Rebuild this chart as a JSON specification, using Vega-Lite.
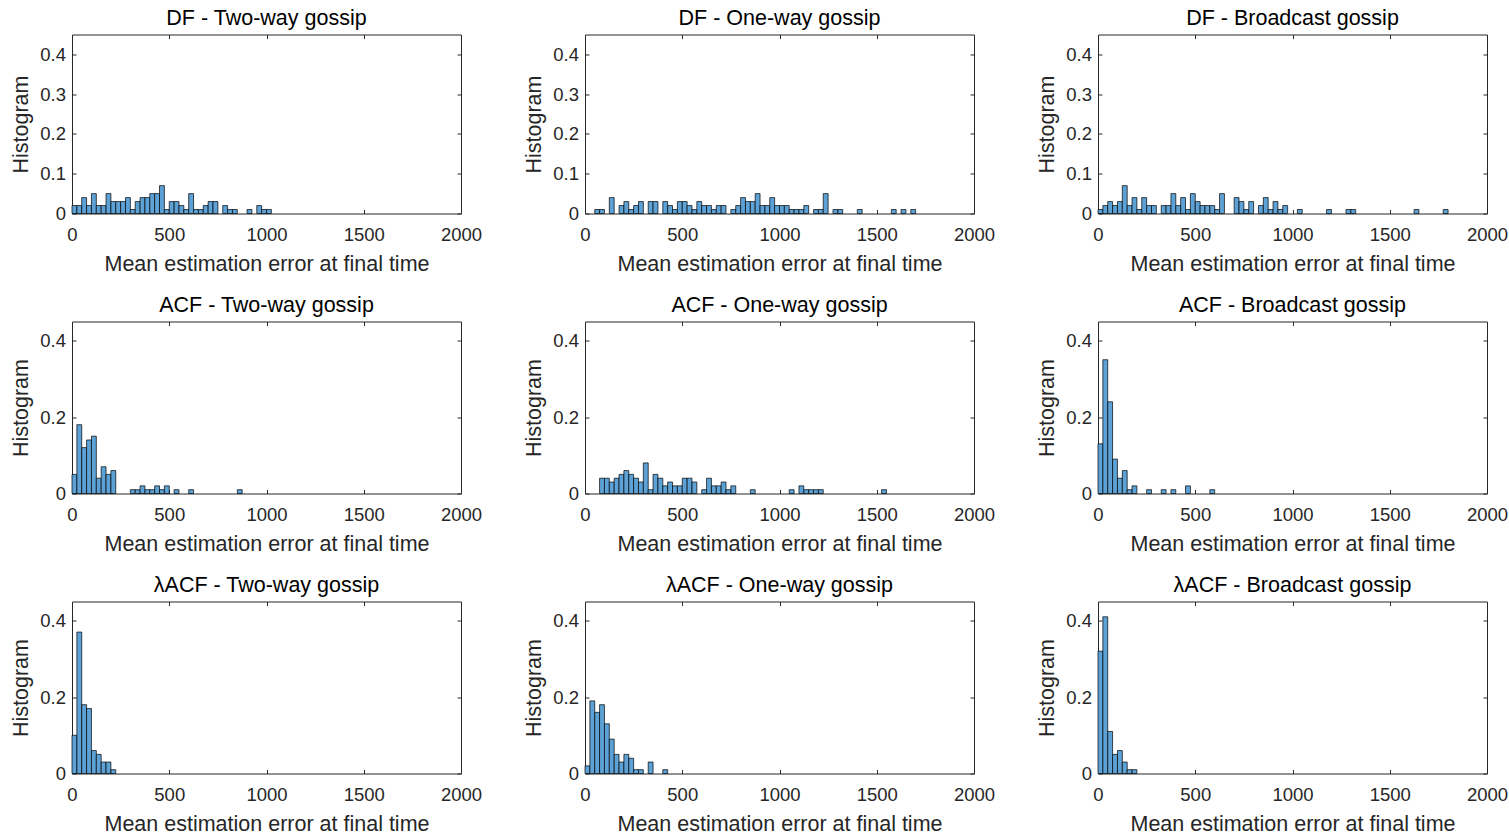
{
  "$schema": "https://vega.github.io/schema/vega-lite/v6.json",
  "padding": {"left": 10, "top": 7.5, "right": 0, "bottom": 0},
  "background": "white",
  "datasets": {
    "hist": [
      {"g":"DF2","lo":0,"hi":25,"p":0.02},{"g":"DF2","lo":25,"hi":50,"p":0.02},{"g":"DF2","lo":50,"hi":75,"p":0.04},{"g":"DF2","lo":75,"hi":100,"p":0.02},
      {"g":"DF2","lo":100,"hi":125,"p":0.05},{"g":"DF2","lo":125,"hi":150,"p":0.02},{"g":"DF2","lo":150,"hi":175,"p":0.02},{"g":"DF2","lo":175,"hi":200,"p":0.05},
      {"g":"DF2","lo":200,"hi":225,"p":0.03},{"g":"DF2","lo":225,"hi":250,"p":0.03},{"g":"DF2","lo":250,"hi":275,"p":0.03},{"g":"DF2","lo":275,"hi":300,"p":0.04},
      {"g":"DF2","lo":300,"hi":325,"p":0.01},{"g":"DF2","lo":325,"hi":350,"p":0.03},{"g":"DF2","lo":350,"hi":375,"p":0.04},{"g":"DF2","lo":375,"hi":400,"p":0.04},
      {"g":"DF2","lo":400,"hi":425,"p":0.05},{"g":"DF2","lo":425,"hi":450,"p":0.05},{"g":"DF2","lo":450,"hi":475,"p":0.07},{"g":"DF2","lo":475,"hi":500,"p":0.01},
      {"g":"DF2","lo":500,"hi":525,"p":0.03},{"g":"DF2","lo":525,"hi":550,"p":0.03},{"g":"DF2","lo":550,"hi":575,"p":0.02},{"g":"DF2","lo":575,"hi":600,"p":0.01},
      {"g":"DF2","lo":600,"hi":625,"p":0.05},{"g":"DF2","lo":625,"hi":650,"p":0.01},{"g":"DF2","lo":650,"hi":675,"p":0.01},{"g":"DF2","lo":675,"hi":700,"p":0.02},
      {"g":"DF2","lo":700,"hi":725,"p":0.03},{"g":"DF2","lo":725,"hi":750,"p":0.03},{"g":"DF2","lo":775,"hi":800,"p":0.02},{"g":"DF2","lo":800,"hi":825,"p":0.01},
      {"g":"DF2","lo":825,"hi":850,"p":0.01},{"g":"DF2","lo":900,"hi":925,"p":0.01},{"g":"DF2","lo":950,"hi":975,"p":0.02},{"g":"DF2","lo":975,"hi":1000,"p":0.01},
      {"g":"DF2","lo":1000,"hi":1025,"p":0.01},

      {"g":"DF1","lo":50,"hi":75,"p":0.01},{"g":"DF1","lo":75,"hi":100,"p":0.01},{"g":"DF1","lo":125,"hi":150,"p":0.04},{"g":"DF1","lo":175,"hi":200,"p":0.02},
      {"g":"DF1","lo":200,"hi":225,"p":0.03},{"g":"DF1","lo":225,"hi":250,"p":0.01},{"g":"DF1","lo":250,"hi":275,"p":0.02},{"g":"DF1","lo":275,"hi":300,"p":0.03},
      {"g":"DF1","lo":325,"hi":350,"p":0.03},{"g":"DF1","lo":350,"hi":375,"p":0.03},{"g":"DF1","lo":400,"hi":425,"p":0.03},{"g":"DF1","lo":425,"hi":450,"p":0.02},
      {"g":"DF1","lo":450,"hi":475,"p":0.01},{"g":"DF1","lo":475,"hi":500,"p":0.03},{"g":"DF1","lo":500,"hi":525,"p":0.03},{"g":"DF1","lo":525,"hi":550,"p":0.02},
      {"g":"DF1","lo":550,"hi":575,"p":0.01},{"g":"DF1","lo":575,"hi":600,"p":0.03},{"g":"DF1","lo":600,"hi":625,"p":0.02},{"g":"DF1","lo":625,"hi":650,"p":0.02},
      {"g":"DF1","lo":650,"hi":675,"p":0.01},{"g":"DF1","lo":675,"hi":700,"p":0.02},{"g":"DF1","lo":700,"hi":725,"p":0.02},{"g":"DF1","lo":750,"hi":775,"p":0.01},
      {"g":"DF1","lo":775,"hi":800,"p":0.02},{"g":"DF1","lo":800,"hi":825,"p":0.04},{"g":"DF1","lo":825,"hi":850,"p":0.03},{"g":"DF1","lo":850,"hi":875,"p":0.03},
      {"g":"DF1","lo":875,"hi":900,"p":0.05},{"g":"DF1","lo":900,"hi":925,"p":0.02},{"g":"DF1","lo":925,"hi":950,"p":0.02},{"g":"DF1","lo":950,"hi":975,"p":0.04},
      {"g":"DF1","lo":975,"hi":1000,"p":0.02},{"g":"DF1","lo":1000,"hi":1025,"p":0.02},{"g":"DF1","lo":1025,"hi":1050,"p":0.02},{"g":"DF1","lo":1050,"hi":1075,"p":0.01},
      {"g":"DF1","lo":1075,"hi":1100,"p":0.01},{"g":"DF1","lo":1100,"hi":1125,"p":0.01},{"g":"DF1","lo":1125,"hi":1150,"p":0.02},{"g":"DF1","lo":1175,"hi":1200,"p":0.01},
      {"g":"DF1","lo":1200,"hi":1225,"p":0.01},{"g":"DF1","lo":1225,"hi":1250,"p":0.05},{"g":"DF1","lo":1275,"hi":1300,"p":0.01},{"g":"DF1","lo":1300,"hi":1325,"p":0.01},
      {"g":"DF1","lo":1400,"hi":1425,"p":0.01},{"g":"DF1","lo":1575,"hi":1600,"p":0.01},{"g":"DF1","lo":1625,"hi":1650,"p":0.01},{"g":"DF1","lo":1675,"hi":1700,"p":0.01},

      {"g":"DFB","lo":0,"hi":25,"p":0.01},{"g":"DFB","lo":25,"hi":50,"p":0.02},{"g":"DFB","lo":50,"hi":75,"p":0.03},{"g":"DFB","lo":75,"hi":100,"p":0.02},
      {"g":"DFB","lo":100,"hi":125,"p":0.03},{"g":"DFB","lo":125,"hi":150,"p":0.07},{"g":"DFB","lo":150,"hi":175,"p":0.02},{"g":"DFB","lo":175,"hi":200,"p":0.04},
      {"g":"DFB","lo":200,"hi":225,"p":0.01},{"g":"DFB","lo":225,"hi":250,"p":0.04},{"g":"DFB","lo":250,"hi":275,"p":0.02},{"g":"DFB","lo":275,"hi":300,"p":0.02},
      {"g":"DFB","lo":325,"hi":350,"p":0.02},{"g":"DFB","lo":350,"hi":375,"p":0.02},{"g":"DFB","lo":375,"hi":400,"p":0.05},{"g":"DFB","lo":400,"hi":425,"p":0.02},
      {"g":"DFB","lo":425,"hi":450,"p":0.04},{"g":"DFB","lo":450,"hi":475,"p":0.01},{"g":"DFB","lo":475,"hi":500,"p":0.05},{"g":"DFB","lo":500,"hi":525,"p":0.03},
      {"g":"DFB","lo":525,"hi":550,"p":0.02},{"g":"DFB","lo":550,"hi":575,"p":0.02},{"g":"DFB","lo":575,"hi":600,"p":0.02},{"g":"DFB","lo":600,"hi":625,"p":0.01},
      {"g":"DFB","lo":625,"hi":650,"p":0.05},{"g":"DFB","lo":700,"hi":725,"p":0.04},{"g":"DFB","lo":725,"hi":750,"p":0.03},{"g":"DFB","lo":750,"hi":775,"p":0.01},
      {"g":"DFB","lo":775,"hi":800,"p":0.03},{"g":"DFB","lo":825,"hi":850,"p":0.02},{"g":"DFB","lo":850,"hi":875,"p":0.04},{"g":"DFB","lo":875,"hi":900,"p":0.01},
      {"g":"DFB","lo":900,"hi":925,"p":0.03},{"g":"DFB","lo":925,"hi":950,"p":0.01},{"g":"DFB","lo":950,"hi":975,"p":0.02},{"g":"DFB","lo":1025,"hi":1050,"p":0.01},
      {"g":"DFB","lo":1175,"hi":1200,"p":0.01},{"g":"DFB","lo":1275,"hi":1300,"p":0.01},{"g":"DFB","lo":1300,"hi":1325,"p":0.01},{"g":"DFB","lo":1625,"hi":1650,"p":0.01},
      {"g":"DFB","lo":1775,"hi":1800,"p":0.01},

      {"g":"ACF2","lo":0,"hi":25,"p":0.05},{"g":"ACF2","lo":25,"hi":50,"p":0.18},{"g":"ACF2","lo":50,"hi":75,"p":0.12},{"g":"ACF2","lo":75,"hi":100,"p":0.14},
      {"g":"ACF2","lo":100,"hi":125,"p":0.15},{"g":"ACF2","lo":125,"hi":150,"p":0.04},{"g":"ACF2","lo":150,"hi":175,"p":0.07},{"g":"ACF2","lo":175,"hi":200,"p":0.05},
      {"g":"ACF2","lo":200,"hi":225,"p":0.06},{"g":"ACF2","lo":300,"hi":325,"p":0.01},{"g":"ACF2","lo":325,"hi":350,"p":0.01},{"g":"ACF2","lo":350,"hi":375,"p":0.02},
      {"g":"ACF2","lo":375,"hi":400,"p":0.01},{"g":"ACF2","lo":400,"hi":425,"p":0.01},{"g":"ACF2","lo":425,"hi":450,"p":0.02},{"g":"ACF2","lo":450,"hi":475,"p":0.01},
      {"g":"ACF2","lo":475,"hi":500,"p":0.02},{"g":"ACF2","lo":525,"hi":550,"p":0.01},{"g":"ACF2","lo":600,"hi":625,"p":0.01},{"g":"ACF2","lo":850,"hi":875,"p":0.01},

      {"g":"ACF1","lo":75,"hi":100,"p":0.04},{"g":"ACF1","lo":100,"hi":125,"p":0.04},{"g":"ACF1","lo":125,"hi":150,"p":0.03},{"g":"ACF1","lo":150,"hi":175,"p":0.04},
      {"g":"ACF1","lo":175,"hi":200,"p":0.05},{"g":"ACF1","lo":200,"hi":225,"p":0.06},{"g":"ACF1","lo":225,"hi":250,"p":0.05},{"g":"ACF1","lo":250,"hi":275,"p":0.04},
      {"g":"ACF1","lo":275,"hi":300,"p":0.03},{"g":"ACF1","lo":300,"hi":325,"p":0.08},{"g":"ACF1","lo":325,"hi":350,"p":0.01},{"g":"ACF1","lo":350,"hi":375,"p":0.05},
      {"g":"ACF1","lo":375,"hi":400,"p":0.04},{"g":"ACF1","lo":400,"hi":425,"p":0.02},{"g":"ACF1","lo":425,"hi":450,"p":0.03},{"g":"ACF1","lo":450,"hi":475,"p":0.02},
      {"g":"ACF1","lo":475,"hi":500,"p":0.02},{"g":"ACF1","lo":500,"hi":525,"p":0.04},{"g":"ACF1","lo":525,"hi":550,"p":0.04},{"g":"ACF1","lo":550,"hi":575,"p":0.03},
      {"g":"ACF1","lo":600,"hi":625,"p":0.01},{"g":"ACF1","lo":625,"hi":650,"p":0.04},{"g":"ACF1","lo":650,"hi":675,"p":0.02},{"g":"ACF1","lo":675,"hi":700,"p":0.02},
      {"g":"ACF1","lo":700,"hi":725,"p":0.03},{"g":"ACF1","lo":725,"hi":750,"p":0.01},{"g":"ACF1","lo":750,"hi":775,"p":0.02},{"g":"ACF1","lo":850,"hi":875,"p":0.01},
      {"g":"ACF1","lo":1050,"hi":1075,"p":0.01},{"g":"ACF1","lo":1100,"hi":1125,"p":0.02},{"g":"ACF1","lo":1125,"hi":1150,"p":0.01},{"g":"ACF1","lo":1150,"hi":1175,"p":0.01},
      {"g":"ACF1","lo":1175,"hi":1200,"p":0.01},{"g":"ACF1","lo":1200,"hi":1225,"p":0.01},{"g":"ACF1","lo":1525,"hi":1550,"p":0.01},

      {"g":"ACFB","lo":0,"hi":25,"p":0.13},{"g":"ACFB","lo":25,"hi":50,"p":0.35},{"g":"ACFB","lo":50,"hi":75,"p":0.24},{"g":"ACFB","lo":75,"hi":100,"p":0.09},
      {"g":"ACFB","lo":100,"hi":125,"p":0.04},{"g":"ACFB","lo":125,"hi":150,"p":0.06},{"g":"ACFB","lo":150,"hi":175,"p":0.01},{"g":"ACFB","lo":175,"hi":200,"p":0.02},
      {"g":"ACFB","lo":250,"hi":275,"p":0.01},{"g":"ACFB","lo":325,"hi":350,"p":0.01},{"g":"ACFB","lo":375,"hi":400,"p":0.01},{"g":"ACFB","lo":450,"hi":475,"p":0.02},
      {"g":"ACFB","lo":575,"hi":600,"p":0.01},

      {"g":"LACF2","lo":0,"hi":25,"p":0.10},{"g":"LACF2","lo":25,"hi":50,"p":0.37},{"g":"LACF2","lo":50,"hi":75,"p":0.18},{"g":"LACF2","lo":75,"hi":100,"p":0.17},
      {"g":"LACF2","lo":100,"hi":125,"p":0.06},{"g":"LACF2","lo":125,"hi":150,"p":0.05},{"g":"LACF2","lo":150,"hi":175,"p":0.03},{"g":"LACF2","lo":175,"hi":200,"p":0.03},
      {"g":"LACF2","lo":200,"hi":225,"p":0.01},

      {"g":"LACF1","lo":0,"hi":25,"p":0.02},{"g":"LACF1","lo":25,"hi":50,"p":0.19},{"g":"LACF1","lo":50,"hi":75,"p":0.16},{"g":"LACF1","lo":75,"hi":100,"p":0.18},
      {"g":"LACF1","lo":100,"hi":125,"p":0.13},{"g":"LACF1","lo":125,"hi":150,"p":0.09},{"g":"LACF1","lo":150,"hi":175,"p":0.05},{"g":"LACF1","lo":175,"hi":200,"p":0.03},
      {"g":"LACF1","lo":200,"hi":225,"p":0.05},{"g":"LACF1","lo":225,"hi":250,"p":0.04},{"g":"LACF1","lo":250,"hi":275,"p":0.01},{"g":"LACF1","lo":275,"hi":300,"p":0.01},
      {"g":"LACF1","lo":325,"hi":350,"p":0.03},{"g":"LACF1","lo":400,"hi":425,"p":0.01},

      {"g":"LACFB","lo":0,"hi":25,"p":0.32},{"g":"LACFB","lo":25,"hi":50,"p":0.41},{"g":"LACFB","lo":50,"hi":75,"p":0.11},{"g":"LACFB","lo":75,"hi":100,"p":0.05},
      {"g":"LACFB","lo":100,"hi":125,"p":0.06},{"g":"LACFB","lo":125,"hi":150,"p":0.03},{"g":"LACFB","lo":150,"hi":175,"p":0.01},{"g":"LACFB","lo":175,"hi":200,"p":0.01}
    ]
  },
  "data": {"name": "hist"},
  "bounds": "flush",
  "columns": 3,
  "spacing": {"row": 108, "column": 124},
  "concat": [
    {"title": "DF - Two-way gossip", "width": 389, "height": 179,
     "transform": [{"filter": "datum.g === 'DF2'"}],
     "layer": [
       {"mark": "rect", "encoding": {
         "x": {"field": "lo", "type": "quantitative", "scale": {"domain": [0, 2000]}, "axis": {"values": [0, 500, 1000, 1500, 2000], "format": "d", "title": "Mean estimation error at final time"}},
         "x2": {"field": "hi"},
         "y": {"field": "p", "type": "quantitative", "scale": {"domain": [0, 0.44]}, "axis": {"values": [0, 0.1, 0.2, 0.3, 0.4], "format": "~g", "title": "Histogram"}},
         "y2": {"datum": 0}}},
       {"mark": {"type": "rect", "opacity": 0}, "encoding": {
         "x": {"field": "lo", "type": "quantitative", "axis": {"orient": "top", "values": [0, 500, 1000, 1500, 2000], "labels": false, "title": null}},
         "x2": {"field": "hi"},
         "y": {"field": "p", "type": "quantitative", "axis": {"orient": "right", "values": [0, 0.1, 0.2, 0.3, 0.4], "labels": false, "title": null}},
         "y2": {"datum": 0}}}
     ],
     "resolve": {"axis": {"x": "independent", "y": "independent"}}},
    {"title": "DF - One-way gossip", "width": 389, "height": 179,
     "transform": [{"filter": "datum.g === 'DF1'"}],
     "layer": [
       {"mark": "rect", "encoding": {
         "x": {"field": "lo", "type": "quantitative", "scale": {"domain": [0, 2000]}, "axis": {"values": [0, 500, 1000, 1500, 2000], "format": "d", "title": "Mean estimation error at final time"}},
         "x2": {"field": "hi"},
         "y": {"field": "p", "type": "quantitative", "scale": {"domain": [0, 0.44]}, "axis": {"values": [0, 0.1, 0.2, 0.3, 0.4], "format": "~g", "title": "Histogram"}},
         "y2": {"datum": 0}}},
       {"mark": {"type": "rect", "opacity": 0}, "encoding": {
         "x": {"field": "lo", "type": "quantitative", "axis": {"orient": "top", "values": [0, 500, 1000, 1500, 2000], "labels": false, "title": null}},
         "x2": {"field": "hi"},
         "y": {"field": "p", "type": "quantitative", "axis": {"orient": "right", "values": [0, 0.1, 0.2, 0.3, 0.4], "labels": false, "title": null}},
         "y2": {"datum": 0}}}
     ],
     "resolve": {"axis": {"x": "independent", "y": "independent"}}},
    {"title": "DF - Broadcast gossip", "width": 389, "height": 179,
     "transform": [{"filter": "datum.g === 'DFB'"}],
     "layer": [
       {"mark": "rect", "encoding": {
         "x": {"field": "lo", "type": "quantitative", "scale": {"domain": [0, 2000]}, "axis": {"values": [0, 500, 1000, 1500, 2000], "format": "d", "title": "Mean estimation error at final time"}},
         "x2": {"field": "hi"},
         "y": {"field": "p", "type": "quantitative", "scale": {"domain": [0, 0.44]}, "axis": {"values": [0, 0.1, 0.2, 0.3, 0.4], "format": "~g", "title": "Histogram"}},
         "y2": {"datum": 0}}},
       {"mark": {"type": "rect", "opacity": 0}, "encoding": {
         "x": {"field": "lo", "type": "quantitative", "axis": {"orient": "top", "values": [0, 500, 1000, 1500, 2000], "labels": false, "title": null}},
         "x2": {"field": "hi"},
         "y": {"field": "p", "type": "quantitative", "axis": {"orient": "right", "values": [0, 0.1, 0.2, 0.3, 0.4], "labels": false, "title": null}},
         "y2": {"datum": 0}}}
     ],
     "resolve": {"axis": {"x": "independent", "y": "independent"}}},
    {"title": "ACF - Two-way gossip", "width": 389, "height": 172,
     "transform": [{"filter": "datum.g === 'ACF2'"}],
     "layer": [
       {"mark": "rect", "encoding": {
         "x": {"field": "lo", "type": "quantitative", "scale": {"domain": [0, 2000]}, "axis": {"values": [0, 500, 1000, 1500, 2000], "format": "d", "title": "Mean estimation error at final time"}},
         "x2": {"field": "hi"},
         "y": {"field": "p", "type": "quantitative", "scale": {"domain": [0, 0.44]}, "axis": {"values": [0, 0.2, 0.4], "format": "~g", "title": "Histogram"}},
         "y2": {"datum": 0}}},
       {"mark": {"type": "rect", "opacity": 0}, "encoding": {
         "x": {"field": "lo", "type": "quantitative", "axis": {"orient": "top", "values": [0, 500, 1000, 1500, 2000], "labels": false, "title": null}},
         "x2": {"field": "hi"},
         "y": {"field": "p", "type": "quantitative", "axis": {"orient": "right", "values": [0, 0.2, 0.4], "labels": false, "title": null}},
         "y2": {"datum": 0}}}
     ],
     "resolve": {"axis": {"x": "independent", "y": "independent"}}},
    {"title": "ACF - One-way gossip", "width": 389, "height": 172,
     "transform": [{"filter": "datum.g === 'ACF1'"}],
     "layer": [
       {"mark": "rect", "encoding": {
         "x": {"field": "lo", "type": "quantitative", "scale": {"domain": [0, 2000]}, "axis": {"values": [0, 500, 1000, 1500, 2000], "format": "d", "title": "Mean estimation error at final time"}},
         "x2": {"field": "hi"},
         "y": {"field": "p", "type": "quantitative", "scale": {"domain": [0, 0.44]}, "axis": {"values": [0, 0.2, 0.4], "format": "~g", "title": "Histogram"}},
         "y2": {"datum": 0}}},
       {"mark": {"type": "rect", "opacity": 0}, "encoding": {
         "x": {"field": "lo", "type": "quantitative", "axis": {"orient": "top", "values": [0, 500, 1000, 1500, 2000], "labels": false, "title": null}},
         "x2": {"field": "hi"},
         "y": {"field": "p", "type": "quantitative", "axis": {"orient": "right", "values": [0, 0.2, 0.4], "labels": false, "title": null}},
         "y2": {"datum": 0}}}
     ],
     "resolve": {"axis": {"x": "independent", "y": "independent"}}},
    {"title": "ACF - Broadcast gossip", "width": 389, "height": 172,
     "transform": [{"filter": "datum.g === 'ACFB'"}],
     "layer": [
       {"mark": "rect", "encoding": {
         "x": {"field": "lo", "type": "quantitative", "scale": {"domain": [0, 2000]}, "axis": {"values": [0, 500, 1000, 1500, 2000], "format": "d", "title": "Mean estimation error at final time"}},
         "x2": {"field": "hi"},
         "y": {"field": "p", "type": "quantitative", "scale": {"domain": [0, 0.44]}, "axis": {"values": [0, 0.2, 0.4], "format": "~g", "title": "Histogram"}},
         "y2": {"datum": 0}}},
       {"mark": {"type": "rect", "opacity": 0}, "encoding": {
         "x": {"field": "lo", "type": "quantitative", "axis": {"orient": "top", "values": [0, 500, 1000, 1500, 2000], "labels": false, "title": null}},
         "x2": {"field": "hi"},
         "y": {"field": "p", "type": "quantitative", "axis": {"orient": "right", "values": [0, 0.2, 0.4], "labels": false, "title": null}},
         "y2": {"datum": 0}}}
     ],
     "resolve": {"axis": {"x": "independent", "y": "independent"}}},
    {"title": "λACF - Two-way gossip", "width": 389, "height": 172,
     "transform": [{"filter": "datum.g === 'LACF2'"}],
     "layer": [
       {"mark": "rect", "encoding": {
         "x": {"field": "lo", "type": "quantitative", "scale": {"domain": [0, 2000]}, "axis": {"values": [0, 500, 1000, 1500, 2000], "format": "d", "title": "Mean estimation error at final time"}},
         "x2": {"field": "hi"},
         "y": {"field": "p", "type": "quantitative", "scale": {"domain": [0, 0.44]}, "axis": {"values": [0, 0.2, 0.4], "format": "~g", "title": "Histogram"}},
         "y2": {"datum": 0}}},
       {"mark": {"type": "rect", "opacity": 0}, "encoding": {
         "x": {"field": "lo", "type": "quantitative", "axis": {"orient": "top", "values": [0, 500, 1000, 1500, 2000], "labels": false, "title": null}},
         "x2": {"field": "hi"},
         "y": {"field": "p", "type": "quantitative", "axis": {"orient": "right", "values": [0, 0.2, 0.4], "labels": false, "title": null}},
         "y2": {"datum": 0}}}
     ],
     "resolve": {"axis": {"x": "independent", "y": "independent"}}},
    {"title": "λACF - One-way gossip", "width": 389, "height": 172,
     "transform": [{"filter": "datum.g === 'LACF1'"}],
     "layer": [
       {"mark": "rect", "encoding": {
         "x": {"field": "lo", "type": "quantitative", "scale": {"domain": [0, 2000]}, "axis": {"values": [0, 500, 1000, 1500, 2000], "format": "d", "title": "Mean estimation error at final time"}},
         "x2": {"field": "hi"},
         "y": {"field": "p", "type": "quantitative", "scale": {"domain": [0, 0.44]}, "axis": {"values": [0, 0.2, 0.4], "format": "~g", "title": "Histogram"}},
         "y2": {"datum": 0}}},
       {"mark": {"type": "rect", "opacity": 0}, "encoding": {
         "x": {"field": "lo", "type": "quantitative", "axis": {"orient": "top", "values": [0, 500, 1000, 1500, 2000], "labels": false, "title": null}},
         "x2": {"field": "hi"},
         "y": {"field": "p", "type": "quantitative", "axis": {"orient": "right", "values": [0, 0.2, 0.4], "labels": false, "title": null}},
         "y2": {"datum": 0}}}
     ],
     "resolve": {"axis": {"x": "independent", "y": "independent"}}},
    {"title": "λACF - Broadcast gossip", "width": 389, "height": 172,
     "transform": [{"filter": "datum.g === 'LACFB'"}],
     "layer": [
       {"mark": "rect", "encoding": {
         "x": {"field": "lo", "type": "quantitative", "scale": {"domain": [0, 2000]}, "axis": {"values": [0, 500, 1000, 1500, 2000], "format": "d", "title": "Mean estimation error at final time"}},
         "x2": {"field": "hi"},
         "y": {"field": "p", "type": "quantitative", "scale": {"domain": [0, 0.44]}, "axis": {"values": [0, 0.2, 0.4], "format": "~g", "title": "Histogram"}},
         "y2": {"datum": 0}}},
       {"mark": {"type": "rect", "opacity": 0}, "encoding": {
         "x": {"field": "lo", "type": "quantitative", "axis": {"orient": "top", "values": [0, 500, 1000, 1500, 2000], "labels": false, "title": null}},
         "x2": {"field": "hi"},
         "y": {"field": "p", "type": "quantitative", "axis": {"orient": "right", "values": [0, 0.2, 0.4], "labels": false, "title": null}},
         "y2": {"datum": 0}}}
     ],
     "resolve": {"axis": {"x": "independent", "y": "independent"}}}
  ],
  "config": {
    "font": "Liberation Sans",
    "view": {"stroke": null},
    "rect": {"fill": "#5DA2D6", "stroke": "#000000", "strokeWidth": 0.7},
    "axis": {
      "grid": false,
      "domainColor": "#262626", "domainWidth": 1,
      "tickColor": "#262626", "tickWidth": 1, "tickSize": -4,
      "labelColor": "#262626", "labelFontSize": 18.5, "labelFlush": false, "labelOverlap": false,
      "titleColor": "#262626", "titleFontSize": 21.5, "titleFontWeight": "normal"
    },
    "axisX": {"labelPadding": 16, "titlePadding": 9},
    "axisY": {"labelPadding": 10.5, "titlePadding": 7},
    "title": {"fontSize": 21.5, "fontWeight": "normal", "color": "#000000", "baseline": "alphabetic", "offset": 4.5, "frame": "group", "anchor": "middle"}
  }
}
